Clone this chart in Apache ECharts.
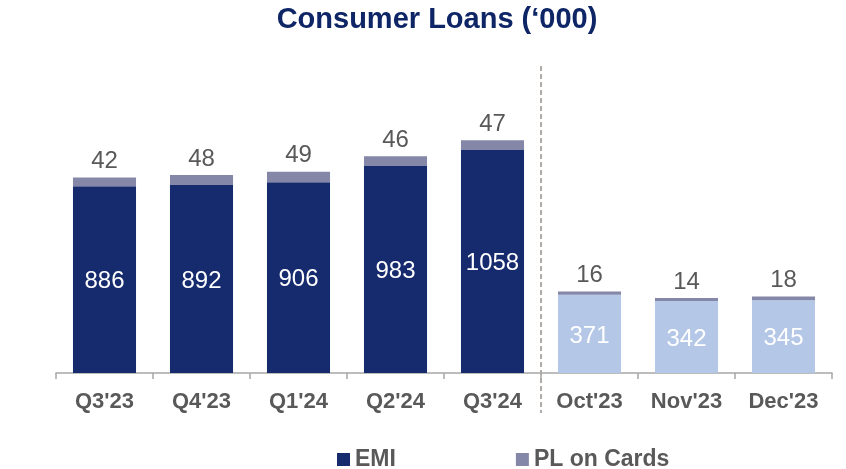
<!DOCTYPE html>
<html>
<head>
<meta charset="utf-8">
<script src="https://cdn.jsdelivr.net/npm/echarts@6/dist/echarts.min.js"></script>
<style>
  html, body { margin: 0; padding: 0; background: #fff; }
  #chart { width: 846px; height: 469px; }
</style>
</head>
<body>
<div id="chart"></div>
<script>
// Periods: five quarters, then three months
const categories = ["Q3'23", "Q4'23", "Q1'24", "Q2'24", "Q3'24", "Oct'23", "Nov'23", "Dec'23"];
const emiValues = [886, 892, 906, 983, 1058, 371, 342, 345];
const plOnCardsValues = [42, 48, 49, 46, 47, 16, 14, 18];
const quarterCount = 5;

const NAVY = '#162a6e';
const LIGHT = '#b4c7e7';
const PL = '#8487a8';
const GREY_TEXT = '#595959';
const FONT = '"Liberation Sans", Arial, sans-serif';

const chart = echarts.init(document.getElementById('chart'));

const emiData = emiValues.map((v, i) => ({
  value: v,
  itemStyle: { color: i < quarterCount ? NAVY : LIGHT }
}));

chart.setOption({
  animation: false,
  title: {
    text: 'Consumer Loans (\u2018000)',
    left: 432,
    textAlign: 'center',
    top: 0,
    textStyle: { color: '#0e2566', fontFamily: FONT, fontSize: 29, fontWeight: 'bold' }
  },
  legend: {
    top: 443,
    left: 332,
    itemGap: 120,
    itemWidth: 13,
    itemHeight: 13,
    icon: 'rect',
    textStyle: { color: GREY_TEXT, fontFamily: FONT, fontSize: 23, fontWeight: 'bold' },
    data: [
      { name: 'EMI', itemStyle: { color: NAVY } },
      { name: 'PL on Cards', itemStyle: { color: PL } }
    ]
  },
  grid: { left: 56, right: 14, top: 57, bottom: 96 },
  xAxis: {
    type: 'category',
    data: categories,
    axisLine: { lineStyle: { color: '#a6a6a6', width: 1.5 } },
    axisTick: { show: true, length: 6, lineStyle: { color: '#a6a6a6', width: 1.5 } },
    axisLabel: { color: GREY_TEXT, fontFamily: FONT, fontSize: 22, fontWeight: 'bold', margin: 18 }
  },
  yAxis: {
    type: 'value',
    min: 0,
    max: 1500,
    show: false,
    splitLine: { show: false }
  },
  series: [
    {
      name: 'EMI',
      type: 'bar',
      stack: 'loans',
      barWidth: '65%',
      data: emiData,
      itemStyle: { color: NAVY },
      label: {
        show: true,
        position: 'inside',
        offset: [0, 2],
        color: '#fff',
        fontFamily: FONT,
        fontSize: 24
      }
    },
    {
      name: 'PL on Cards',
      type: 'bar',
      stack: 'loans',
      barWidth: '65%',
      data: plOnCardsValues,
      itemStyle: { color: PL },
      label: {
        show: true,
        position: 'top',
        distance: 4,
        color: GREY_TEXT,
        fontFamily: FONT,
        fontSize: 24
      }
    }
  ]
});

// Dashed divider between the quarterly and monthly groups
const xa = chart.convertToPixel({ xAxisIndex: 0 }, quarterCount - 1);
const xb = chart.convertToPixel({ xAxisIndex: 0 }, quarterCount);
const dividerX = Math.round((xa + xb) / 2);
chart.setOption({
  graphic: [{
    type: 'line',
    shape: { x1: dividerX, y1: 66, x2: dividerX, y2: 413 },
    style: { stroke: '#b0aaa6', lineWidth: 2, lineDash: [5, 3] },
    z: 10
  }]
});
</script>
</body>
</html>
